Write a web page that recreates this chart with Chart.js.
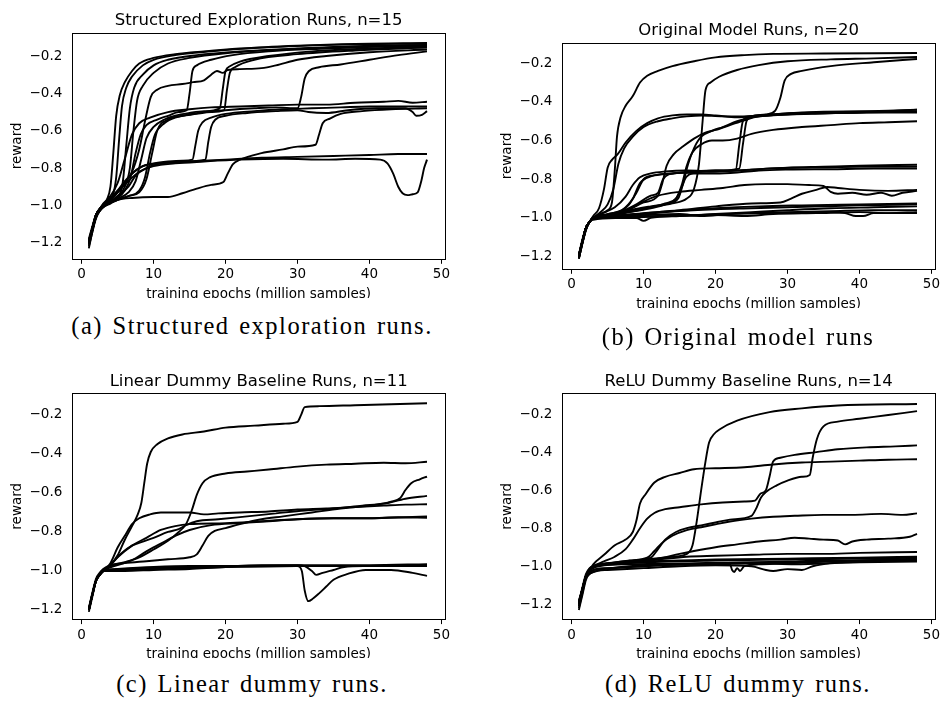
<!DOCTYPE html>
<html>
<head>
<meta charset="utf-8">
<title>Reward curves</title>
<script src="https://cdn.jsdelivr.net/npm/chart.js@4.4.1/dist/chart.umd.min.js"></script>
<style>
  html, body { margin:0; padding:0; background:#fff; }
  body { width:941px; height:701px; position:relative; overflow:hidden; }
  .panel { position:absolute; overflow:hidden; }
  .caption { position:absolute; font-family:"Liberation Serif", serif; font-size:24.5px; letter-spacing:1.5px; word-spacing:2px;
             line-height:30px; color:#000; white-space:nowrap; transform:translateX(-50%); }
</style>
</head>
<body>
<div class="panel" id="pa"><canvas id="ca"></canvas></div>
<div class="panel" id="pb"><canvas id="cb"></canvas></div>
<div class="panel" id="pc"><canvas id="cc"></canvas></div>
<div class="panel" id="pd"><canvas id="cd"></canvas></div>
<div class="caption" id="capa"></div>
<div class="caption" id="capb"></div>
<div class="caption" id="capc"></div>
<div class="caption" id="capd"></div>
<script>
const X_TICKS = [0, 10, 20, 30, 40, 50];
const Y_TICKS = [-1.2, -1.0, -0.8, -0.6, -0.4, -0.2];
const X_LABEL = "training epochs (million samples)";
const Y_LABEL = "reward";
const TITLES = ["Structured Exploration Runs, n=15", "Original Model Runs, n=20",
                "Linear Dummy Baseline Runs, n=11", "ReLU Dummy Baseline Runs, n=14"];
const CAPTIONS = ["(a) Structured exploration runs.", "(b) Original model runs",
                  "(c) Linear dummy runs.", "(d) ReLU dummy runs."];

// each run: [epoch, reward] pairs
const RUNS_A = [
  [[1,-1.2],[1.5,-1.13],[2,-1.06],[2.5,-1.02],[3,-1.0],[3.5,-0.97],[4,-0.9],[4.4,-0.72],[4.8,-0.52],[5.3,-0.41],[6,-0.34],[7,-0.28],[8,-0.24],[10,-0.21],[13,-0.19],[17,-0.175],[22,-0.16],[30,-0.145],[38,-0.135],[48,-0.13]],
  [[1,-1.19],[1.5,-1.12],[2,-1.05],[2.5,-1.02],[3,-1.0],[3.5,-0.98],[4.3,-0.95],[4.8,-0.85],[5.2,-0.65],[5.6,-0.47],[6.2,-0.37],[7,-0.31],[8.5,-0.25],[10,-0.22],[13,-0.195],[18,-0.175],[25,-0.155],[35,-0.14],[48,-0.133]],
  [[1,-1.21],[1.5,-1.13],[2,-1.06],[2.5,-1.02],[3,-1.0],[4,-0.98],[5,-0.96],[5.7,-0.88],[6.2,-0.68],[6.7,-0.48],[7.3,-0.37],[8.5,-0.3],[10,-0.25],[12,-0.22],[16,-0.195],[22,-0.175],[30,-0.16],[40,-0.145],[48,-0.14]],
  [[1,-1.2],[1.5,-1.12],[2,-1.05],[2.5,-1.02],[3,-1.0],[4,-0.98],[5,-0.95],[6,-0.9],[6.7,-0.8],[7.2,-0.6],[7.7,-0.44],[8.5,-0.36],[10,-0.29],[12,-0.24],[15,-0.21],[20,-0.185],[28,-0.165],[38,-0.15],[48,-0.145]],
  [[1,-1.22],[1.5,-1.14],[2,-1.06],[2.5,-1.03],[3,-1.0],[4,-0.97],[5,-0.93],[6,-0.88],[7,-0.82],[8,-0.7],[8.8,-0.55],[9.6,-0.42],[10.5,-0.38],[12,-0.36],[14,-0.35],[15.5,-0.34],[17,-0.33],[18,-0.3],[18.8,-0.28],[19.6,-0.29],[20.3,-0.275],[22,-0.27],[25,-0.265],[27,-0.25],[30,-0.22],[34,-0.2],[40,-0.18],[48,-0.165]],
  [[1,-1.19],[1.5,-1.12],[2,-1.05],[2.5,-1.02],[3,-1.0],[4,-0.98],[5,-0.96],[6,-0.92],[6.8,-0.85],[7.5,-0.72],[8.2,-0.62],[9,-0.57],[10.5,-0.54],[12,-0.52],[13.5,-0.5],[14.6,-0.49],[15,-0.4],[15.4,-0.28],[16,-0.25],[18,-0.22],[21,-0.195],[26,-0.175],[34,-0.16],[48,-0.14]],
  [[1,-1.2],[1.5,-1.13],[2,-1.06],[2.5,-1.02],[3,-1.0],[4,-0.98],[5,-0.965],[6.5,-0.93],[7.5,-0.87],[8.3,-0.75],[9,-0.64],[10,-0.58],[11.5,-0.54],[13,-0.52],[15,-0.505],[17,-0.495],[19.2,-0.48],[19.6,-0.38],[20,-0.28],[20.6,-0.255],[22,-0.23],[26,-0.2],[32,-0.175],[40,-0.16],[48,-0.15]],
  [[1,-1.23],[1.5,-1.14],[2,-1.07],[2.5,-1.03],[3,-1.01],[4,-0.99],[5,-0.97],[6.5,-0.95],[8,-0.92],[8.8,-0.85],[9.5,-0.72],[10.2,-0.62],[11.5,-0.56],[13,-0.53],[16,-0.51],[18,-0.5],[19.8,-0.49],[20.2,-0.38],[20.6,-0.29],[21.3,-0.26],[24,-0.22],[30,-0.19],[38,-0.17],[48,-0.155]],
  [[1,-1.19],[1.5,-1.12],[2,-1.05],[2.5,-1.02],[3,-1.0],[4,-0.985],[5,-0.97],[6.5,-0.95],[8,-0.93],[9,-0.86],[9.8,-0.72],[10.5,-0.6],[12,-0.54],[14,-0.52],[17,-0.5],[20,-0.49],[24,-0.48],[27,-0.475],[30,-0.48],[30.5,-0.42],[31,-0.32],[31.6,-0.28],[33,-0.26],[36,-0.245],[40,-0.22],[44,-0.195],[48,-0.175]],
  [[1,-1.2],[1.5,-1.12],[2,-1.05],[2.5,-1.02],[3,-0.99],[4,-0.95],[5,-0.88],[6,-0.75],[7,-0.62],[8,-0.56],[9.5,-0.53],[12,-0.5],[15,-0.485],[18,-0.475],[22,-0.47],[26,-0.465],[30,-0.46],[34,-0.46],[38,-0.45],[42,-0.445],[44,-0.44],[46,-0.45],[48,-0.445]],
  [[1,-1.18],[1.5,-1.11],[2,-1.05],[2.5,-1.02],[3,-1.0],[4,-0.97],[5,-0.93],[6,-0.88],[7,-0.83],[8.5,-0.79],[10,-0.775],[12,-0.765],[14,-0.76],[15.4,-0.755],[15.8,-0.68],[16.2,-0.6],[16.8,-0.555],[18,-0.53],[20,-0.51],[24,-0.495],[28,-0.485],[32,-0.48],[36,-0.475],[40,-0.47],[44,-0.47],[48,-0.47]],
  [[1,-1.2],[1.5,-1.13],[2,-1.06],[2.5,-1.03],[3,-1.005],[4,-0.98],[5,-0.95],[6.5,-0.9],[7.5,-0.84],[9,-0.8],[11,-0.775],[14,-0.765],[17.2,-0.755],[17.6,-0.66],[18,-0.58],[18.6,-0.54],[20,-0.52],[23,-0.505],[27,-0.495],[30,-0.49],[31.5,-0.5],[34,-0.505],[37,-0.49],[41,-0.48],[45,-0.48],[46,-0.5],[46.5,-0.52],[47.3,-0.515],[48,-0.495]],
  [[1,-1.21],[1.5,-1.13],[2,-1.06],[2.5,-1.03],[3,-1.01],[4,-0.985],[5,-0.97],[7,-0.96],[10,-0.955],[12,-0.955],[14,-0.935],[16,-0.91],[18,-0.89],[19.7,-0.875],[20.3,-0.83],[21,-0.78],[22,-0.755],[25,-0.72],[28,-0.7],[30,-0.685],[32.5,-0.675],[33,-0.62],[33.5,-0.56],[34.5,-0.535],[36,-0.51],[39,-0.495],[43,-0.485],[48,-0.48]],
  [[1,-1.19],[1.5,-1.12],[2,-1.05],[2.5,-1.02],[3,-0.995],[4,-0.96],[5,-0.92],[6,-0.87],[7,-0.83],[8.5,-0.79],[11,-0.775],[15,-0.765],[20,-0.755],[25,-0.745],[30,-0.74],[35,-0.735],[40,-0.73],[44,-0.725],[48,-0.725]],
  [[1,-1.2],[1.5,-1.12],[2,-1.06],[2.5,-1.02],[3,-1.0],[4,-0.97],[5,-0.93],[6.5,-0.87],[8,-0.82],[10,-0.79],[13,-0.775],[17,-0.765],[22,-0.755],[28,-0.75],[34,-0.755],[38,-0.75],[41.5,-0.755],[42.5,-0.775],[43.3,-0.83],[44,-0.9],[44.6,-0.935],[45.3,-0.945],[46,-0.94],[46.7,-0.93],[47.2,-0.87],[47.6,-0.8],[48,-0.755]]
];

const RUNS_B = [
  [[1,-1.19],[1.5,-1.11],[2,-1.05],[2.5,-1.02],[3,-1.0],[4,-0.98],[5,-0.96],[5.6,-0.92],[6,-0.75],[6.3,-0.58],[6.8,-0.48],[7.5,-0.42],[8.5,-0.37],[9.5,-0.3],[10.5,-0.265],[12,-0.24],[14,-0.215],[17,-0.19],[20,-0.17],[24,-0.158],[28,-0.152],[35,-0.15],[48,-0.147]],
  [[1,-1.2],[1.5,-1.12],[2,-1.05],[2.5,-1.02],[3,-1.0],[5,-0.985],[8,-0.965],[11,-0.945],[14,-0.925],[16,-0.9],[17,-0.85],[17.7,-0.72],[18.2,-0.5],[18.6,-0.34],[19.3,-0.3],[20.5,-0.27],[23,-0.235],[26,-0.21],[30,-0.19],[36,-0.18],[42,-0.175],[48,-0.168]],
  [[1,-1.2],[1.5,-1.12],[2,-1.05],[2.5,-1.02],[3,-1.0],[5,-0.98],[7,-0.96],[8.5,-0.9],[9.5,-0.82],[11,-0.785],[14,-0.77],[17,-0.76],[20,-0.755],[23.3,-0.745],[23.8,-0.62],[24.3,-0.5],[25,-0.475],[27,-0.465],[28.3,-0.445],[29,-0.38],[29.6,-0.29],[30.5,-0.255],[32,-0.24],[36,-0.215],[42,-0.195],[48,-0.178]],
  [[1,-1.19],[1.5,-1.12],[2,-1.05],[2.5,-1.02],[3,-0.99],[3.8,-0.95],[4.5,-0.85],[5,-0.74],[5.6,-0.7],[6.4,-0.67],[7.5,-0.61],[9,-0.55],[10.5,-0.51],[12,-0.485],[14,-0.47],[16,-0.465],[18,-0.465],[20,-0.47],[23,-0.48],[26,-0.47],[30,-0.46],[35,-0.455],[40,-0.45],[44,-0.445],[48,-0.44]],
  [[1,-1.2],[1.5,-1.12],[2,-1.05],[2.5,-1.02],[3,-1.0],[4,-0.97],[5,-0.93],[5.8,-0.85],[6.5,-0.72],[7.3,-0.64],[8.5,-0.58],[10,-0.53],[12,-0.5],[14,-0.485],[16,-0.475],[18,-0.47],[21,-0.475],[24,-0.475],[28,-0.465],[32,-0.455],[38,-0.45],[43,-0.45],[48,-0.45]],
  [[1,-1.2],[1.5,-1.12],[2,-1.05],[2.5,-1.02],[3,-1.0],[5,-0.98],[7,-0.96],[8,-0.93],[9,-0.87],[10,-0.8],[11.5,-0.78],[14,-0.77],[17,-0.765],[20,-0.755],[22.8,-0.75],[23.3,-0.62],[23.8,-0.5],[24.5,-0.48],[27,-0.47],[31,-0.46],[36,-0.455],[42,-0.455],[48,-0.455]],
  [[1,-1.21],[1.5,-1.13],[2,-1.06],[2.5,-1.02],[3,-1.0],[5,-0.985],[8,-0.955],[10,-0.92],[12,-0.885],[12.6,-0.82],[13.2,-0.73],[14.2,-0.67],[15.5,-0.63],[17,-0.59],[18.5,-0.56],[20,-0.545],[22,-0.52],[24,-0.495],[26,-0.475],[30,-0.465],[35,-0.46],[40,-0.455],[48,-0.45]],
  [[1,-1.2],[1.5,-1.12],[2,-1.05],[2.5,-1.02],[3,-1.0],[5,-0.985],[8,-0.96],[11,-0.94],[13.5,-0.925],[14.8,-0.9],[15.5,-0.82],[16.2,-0.72],[17,-0.64],[18,-0.58],[19.5,-0.55],[21,-0.53],[23,-0.5],[25,-0.48],[28,-0.47],[33,-0.46],[40,-0.455],[48,-0.44]],
  [[1,-1.2],[1.5,-1.12],[2,-1.05],[2.5,-1.02],[3,-1.0],[5,-0.985],[8,-0.97],[11,-0.95],[13,-0.93],[14.5,-0.9],[15.3,-0.83],[16,-0.73],[16.8,-0.66],[18,-0.62],[19.5,-0.6],[21,-0.6],[23,-0.59],[25,-0.565],[28,-0.545],[32,-0.53],[36,-0.52],[40,-0.51],[44,-0.505],[48,-0.5]],
  [[1,-1.19],[1.5,-1.12],[2,-1.05],[2.5,-1.02],[3,-1.0],[4,-0.98],[6,-0.945],[7.5,-0.89],[8.5,-0.83],[9.5,-0.79],[11,-0.77],[13,-0.76],[16,-0.755],[20,-0.76],[25,-0.75],[30,-0.74],[35,-0.735],[40,-0.73],[48,-0.725]],
  [[1,-1.2],[1.5,-1.12],[2,-1.05],[2.5,-1.02],[3,-1.0],[5,-0.985],[7,-0.965],[9,-0.93],[11,-0.885],[12,-0.87],[12.7,-0.8],[13.5,-0.775],[16,-0.765],[20,-0.76],[23,-0.755],[27,-0.745],[32,-0.74],[40,-0.735],[48,-0.735]],
  [[1,-1.21],[1.5,-1.13],[2,-1.06],[2.5,-1.02],[3,-1.0],[5,-0.99],[8,-0.97],[11,-0.945],[13,-0.925],[14.5,-0.9],[15.2,-0.85],[15.9,-0.79],[17,-0.77],[20,-0.77],[23,-0.765],[26,-0.755],[30,-0.75],[36,-0.748],[42,-0.745],[48,-0.745]],
  [[1,-1.2],[1.5,-1.12],[2,-1.05],[2.5,-1.02],[3,-1.0],[5,-0.985],[8,-0.955],[10,-0.915],[12,-0.885],[15,-0.865],[18,-0.855],[21,-0.845],[24,-0.83],[27,-0.825],[30,-0.825],[33,-0.83],[35,-0.835],[36,-0.865],[37,-0.875],[39,-0.87],[41,-0.88],[43,-0.87],[44.5,-0.885],[46,-0.87],[48,-0.86]],
  [[1,-1.19],[1.5,-1.12],[2,-1.05],[2.5,-1.02],[3,-1.0],[5,-0.99],[10,-0.975],[15,-0.96],[20,-0.94],[25,-0.925],[29,-0.92],[30.5,-0.9],[32,-0.875],[34,-0.855],[35.5,-0.84],[37,-0.845],[40,-0.855],[44,-0.86],[48,-0.855]],
  [[1,-1.2],[1.5,-1.12],[2,-1.05],[2.5,-1.02],[3,-1.0],[5,-0.995],[10,-0.98],[15,-0.965],[20,-0.955],[25,-0.95],[30,-0.945],[35,-0.94],[40,-0.935],[48,-0.93]],
  [[1,-1.21],[1.5,-1.13],[2,-1.06],[2.5,-1.02],[3,-1.0],[6,-1.0],[9,-1.0],[10,-1.015],[11,-1.0],[15,-0.99],[20,-0.98],[25,-0.97],[30,-0.96],[36,-0.95],[42,-0.945],[48,-0.94]],
  [[1,-1.2],[1.5,-1.12],[2,-1.05],[2.5,-1.02],[3,-1.0],[6,-0.99],[10,-0.985],[15,-0.98],[18,-0.99],[22,-0.98],[28,-0.975],[34,-0.97],[38,-0.975],[39.5,-0.99],[40.5,-0.99],[42,-0.975],[48,-0.975]],
  [[1,-1.19],[1.5,-1.12],[2,-1.05],[2.5,-1.02],[3,-1.0],[6,-0.995],[12,-0.99],[18,-0.985],[24,-0.975],[30,-0.97],[36,-0.965],[42,-0.96],[48,-0.96]],
  [[1,-1.2],[1.5,-1.12],[2,-1.05],[2.5,-1.02],[3,-1.0],[6,-0.99],[9,-0.98],[12,-0.97],[16,-0.96],[20,-0.95],[26,-0.94],[32,-0.935],[40,-0.93],[48,-0.925]],
  [[1,-1.21],[1.5,-1.13],[2,-1.06],[2.5,-1.02],[3,-1.01],[7,-1.0],[10,-0.995],[14,-0.99],[20,-0.985],[24,-0.99],[28,-0.98],[34,-0.975],[40,-0.97],[44,-0.975],[48,-0.97]]
];

const RUNS_C = [
  [[1,-1.2],[1.5,-1.12],[2,-1.05],[2.5,-1.02],[3,-1.0],[4,-0.97],[5,-0.92],[6,-0.84],[7,-0.77],[7.8,-0.71],[8.3,-0.65],[8.7,-0.55],[9.1,-0.45],[9.6,-0.39],[10.5,-0.35],[12,-0.32],[14,-0.3],[17,-0.285],[20,-0.265],[24,-0.255],[28,-0.245],[30,-0.235],[30.5,-0.2],[31,-0.16],[33,-0.155],[38,-0.15],[43,-0.145],[48,-0.14]],
  [[1,-1.2],[1.5,-1.12],[2,-1.05],[2.5,-1.02],[3,-1.0],[4,-0.975],[6,-0.955],[8,-0.93],[10,-0.89],[12,-0.845],[13.5,-0.8],[14.5,-0.76],[15.3,-0.69],[16,-0.61],[16.8,-0.55],[17.8,-0.52],[20,-0.5],[23,-0.49],[26,-0.48],[30,-0.465],[34,-0.455],[38,-0.45],[42,-0.445],[45,-0.448],[48,-0.44]],
  [[1,-1.19],[1.5,-1.11],[2,-1.04],[2.5,-1.01],[3,-0.99],[4,-0.97],[6,-0.96],[9,-0.95],[12,-0.94],[15,-0.93],[16,-0.915],[16.8,-0.87],[17.6,-0.82],[18.5,-0.795],[20,-0.78],[22,-0.76],[25,-0.735],[28,-0.72],[32,-0.7],[36,-0.68],[40,-0.665],[43,-0.645],[44.3,-0.625],[45,-0.585],[45.8,-0.55],[47,-0.53],[48,-0.516]],
  [[1,-1.2],[1.5,-1.12],[2,-1.05],[2.5,-1.02],[3,-1.0],[4,-0.97],[5.5,-0.91],[7,-0.87],[8.5,-0.85],[10,-0.83],[12,-0.8],[13.5,-0.785],[14.5,-0.765],[16,-0.745],[19,-0.735],[23,-0.72],[27,-0.705],[31,-0.69],[35,-0.68],[39,-0.665],[42,-0.655],[45,-0.63],[48,-0.615]],
  [[1,-1.21],[1.5,-1.13],[2,-1.05],[2.5,-1.02],[3,-1.0],[4,-0.96],[5,-0.88],[6,-0.82],[7,-0.76],[8,-0.73],[9.5,-0.71],[11,-0.7],[13,-0.7],[15,-0.7],[17,-0.71],[19,-0.705],[22,-0.7],[26,-0.695],[30,-0.685],[34,-0.68],[38,-0.672],[42,-0.665],[45,-0.66],[48,-0.658]],
  [[1,-1.2],[1.5,-1.12],[2,-1.05],[2.5,-1.02],[3,-1.0],[4,-0.97],[5,-0.93],[7,-0.87],[9,-0.83],[11,-0.79],[13,-0.77],[15,-0.76],[20,-0.755],[25,-0.745],[30,-0.735],[35,-0.73],[40,-0.73],[45,-0.725],[48,-0.72]],
  [[1,-1.19],[1.5,-1.12],[2,-1.05],[2.5,-1.02],[3,-1.0],[5,-0.97],[7,-0.945],[9,-0.9],[11,-0.86],[13,-0.82],[15,-0.79],[18,-0.765],[22,-0.755],[26,-0.745],[30,-0.735],[35,-0.73],[40,-0.73],[44,-0.725],[48,-0.727]],
  [[1,-1.2],[1.5,-1.12],[2,-1.05],[2.5,-1.02],[3,-1.0],[5,-0.99],[10,-0.98],[15,-0.975],[20,-0.975],[25,-0.97],[30,-0.97],[35,-0.97],[40,-0.97],[48,-0.965]],
  [[1,-1.2],[1.5,-1.12],[2,-1.05],[2.5,-1.02],[3,-1.0],[6,-1.0],[10,-0.995],[15,-0.99],[20,-0.98],[30,-0.975],[40,-0.975],[48,-0.975]],
  [[1,-1.2],[1.5,-1.12],[2,-1.05],[2.5,-1.02],[3,-1.0],[6,-0.995],[10,-0.99],[20,-0.98],[30,-0.975],[30.6,-1.0],[31,-1.1],[31.5,-1.155],[32.2,-1.14],[33,-1.115],[34,-1.08],[35,-1.045],[37,-1.015],[39.5,-0.995],[43,-0.995],[46,-1.01],[48,-1.025]],
  [[1,-1.2],[1.5,-1.12],[2,-1.05],[2.5,-1.02],[3,-1.0],[6,-0.99],[10,-0.985],[20,-0.975],[30,-0.97],[31,-0.975],[32,-1.0],[32.6,-1.02],[33.5,-1.01],[35,-0.995],[36.5,-0.98],[40,-0.975],[48,-0.97]]
];

const RUNS_D = [
  [[1,-1.19],[1.5,-1.11],[2,-1.04],[2.5,-1.01],[3,-1.0],[6,-0.98],[10,-0.965],[14,-0.95],[16,-0.935],[16.8,-0.89],[17.4,-0.76],[18,-0.6],[18.6,-0.45],[19.1,-0.35],[19.8,-0.305],[20.6,-0.28],[23,-0.235],[27.5,-0.19],[32,-0.17],[37,-0.155],[48,-0.147]],
  [[1,-1.2],[1.5,-1.12],[2,-1.05],[2.5,-1.02],[3,-1.0],[6,-0.985],[9,-0.97],[11,-0.955],[12,-0.91],[13,-0.86],[14.5,-0.82],[16,-0.8],[18,-0.785],[20,-0.77],[22,-0.755],[25,-0.735],[25.6,-0.7],[26.3,-0.64],[27,-0.61],[28.5,-0.575],[30,-0.55],[32,-0.53],[33.1,-0.52],[33.5,-0.43],[34.1,-0.33],[35,-0.265],[37,-0.24],[40,-0.225],[44,-0.205],[48,-0.185]],
  [[1,-1.21],[1.5,-1.13],[2,-1.05],[2.5,-1.02],[3,-1.0],[4.5,-0.975],[6,-0.95],[7.5,-0.91],[8.5,-0.86],[9.5,-0.8],[10.5,-0.75],[11.5,-0.72],[13,-0.7],[15,-0.69],[18,-0.675],[21,-0.665],[24,-0.66],[25.5,-0.655],[26.2,-0.62],[27,-0.6],[27.5,-0.53],[28,-0.45],[29,-0.43],[31,-0.415],[34,-0.4],[37,-0.385],[41,-0.375],[45,-0.37],[48,-0.365]],
  [[1,-1.2],[1.5,-1.12],[2,-1.05],[2.5,-1.02],[3,-0.99],[4.5,-0.94],[6,-0.89],[7.5,-0.86],[8.5,-0.82],[9,-0.76],[9.5,-0.67],[10.3,-0.62],[11.5,-0.56],[13,-0.53],[15,-0.51],[17,-0.49],[20,-0.485],[24,-0.48],[28,-0.465],[32,-0.455],[36,-0.45],[40,-0.445],[44,-0.44],[48,-0.438]],
  [[1,-1.2],[1.5,-1.12],[2,-1.05],[2.5,-1.02],[3,-1.0],[5,-0.985],[8,-0.97],[10.5,-0.955],[11.5,-0.92],[12.5,-0.88],[14,-0.84],[16,-0.81],[18,-0.795],[20,-0.78],[22,-0.765],[25,-0.75],[28,-0.74],[31,-0.735],[35,-0.73],[39,-0.73],[43,-0.725],[46,-0.73],[48,-0.722]],
  [[1,-1.2],[1.5,-1.12],[2,-1.05],[2.5,-1.02],[3,-1.0],[8,-0.98],[12,-0.96],[15,-0.935],[17,-0.92],[20,-0.9],[23,-0.885],[26,-0.87],[29,-0.86],[31,-0.85],[33,-0.855],[35,-0.86],[37,-0.865],[38,-0.885],[39,-0.87],[41,-0.86],[44,-0.855],[47,-0.845],[48,-0.83]],
  [[1,-1.19],[1.5,-1.12],[2,-1.05],[2.5,-1.02],[3,-1.0],[8,-0.98],[12,-0.965],[16,-0.95],[20,-0.945],[25,-0.94],[30,-0.935],[35,-0.935],[40,-0.93],[48,-0.925]],
  [[1,-1.22],[1.5,-1.14],[2,-1.06],[3,-1.02],[5,-1.01],[10,-1.0],[15,-0.99],[20,-0.985],[22,-0.99],[22.3,-1.02],[22.6,-1.03],[23,-1.01],[23.4,-1.025],[24,-1.0],[26,-0.99],[30,-0.985],[35,-0.975],[40,-0.97],[48,-0.96]],
  [[1,-1.23],[1.5,-1.15],[2,-1.07],[3,-1.03],[5,-1.02],[10,-1.01],[15,-1.0],[20,-0.995],[25,-1.0],[27,-1.02],[28,-1.025],[30,-1.015],[32,-1.02],[33.5,-1.0],[36,-0.985],[40,-0.98],[48,-0.975]],
  [[1,-1.2],[1.5,-1.12],[2,-1.05],[3,-1.01],[6,-0.99],[10,-0.98],[20,-0.97],[30,-0.965],[40,-0.96],[48,-0.955]],
  [[1,-1.19],[1.5,-1.12],[2,-1.05],[3,-1.0],[6,-0.985],[10,-0.975],[15,-0.97],[20,-0.965],[30,-0.96],[40,-0.955],[48,-0.95]],
  [[1,-1.21],[1.5,-1.13],[2,-1.06],[2.5,-1.04],[4,-1.02],[8,-1.0],[15,-0.99],[25,-0.98],[30,-0.975],[35,-0.97],[40,-0.97],[48,-0.97]],
  [[1,-1.2],[1.5,-1.12],[2,-1.05],[3,-1.0],[8,-0.99],[16,-0.985],[24,-0.98],[30,-0.98],[35,-0.975],[42,-0.97],[48,-0.965]],
  [[1,-1.18],[1.5,-1.12],[2,-1.06],[3,-1.02],[6,-1.01],[12,-0.995],[20,-0.99],[26,-0.985],[31,-0.99],[38,-0.98],[48,-0.968]]
];

// page layout of the four panels (canvas box, plot box, value ranges)
const PANELS = [
  { id:"a", runs:RUNS_A, left:0,   top:0,   width:460, plotLeft:72.3, plotRight:445, plotTop:32.7, plotBottom:259,   yMin:-1.287, yMax:-0.075, capX:252, capY:326 },
  { id:"b", runs:RUNS_B, left:490, top:0,   width:451, plotLeft:72.3, plotRight:445, plotTop:42.7, plotBottom:269,   yMin:-1.264, yMax:-0.094, capX:738, capY:337 },
  { id:"c", runs:RUNS_C, left:0,   top:350, width:460, plotLeft:72.3, plotRight:445, plotTop:43.3, plotBottom:269.3, yMin:-1.248, yMax:-0.089, capX:252, capY:684 },
  { id:"d", runs:RUNS_D, left:490, top:350, width:451, plotLeft:72.3, plotRight:445, plotTop:43.3, plotBottom:269.3, yMin:-1.279, yMax:-0.091, capX:738, capY:684 }
];

const FONT = "'DejaVu Sans', sans-serif";
const fmt = v => (v < 0 ? "\u2212" : "") + Math.abs(v).toFixed(1);

// axes box on all four sides, plus the panel title above it
const frame = {
  id: "frame",
  afterDraw(chart, args, opts) {
    const a = chart.chartArea, c = chart.ctx;
    c.save();
    c.strokeStyle = "#000";
    c.lineWidth = 1;
    c.strokeRect(Math.round(a.left) + 0.5, Math.round(a.top) + 0.5,
                 Math.round(a.right - a.left), Math.round(a.bottom - a.top));
    c.fillStyle = "#000";
    c.font = "16.5px 'DejaVu Sans', sans-serif";
    c.textAlign = "center";
    c.textBaseline = "alphabetic";
    c.fillText(opts.title, (a.left + a.right) / 2, a.top - 7.5);
    c.restore();
  }
};

PANELS.forEach((p, i) => {
  const wrap = document.getElementById("p" + p.id);
  const cv = document.getElementById("c" + p.id);
  const H = Math.round(p.plotBottom + 44);
  wrap.style.left = p.left + "px";
  wrap.style.top = p.top + "px";
  wrap.style.width = p.width + "px";
  wrap.style.height = Math.round(p.plotBottom + 38.5) + "px";
  cv.width = p.width; cv.height = H;
  cv.style.width = p.width + "px"; cv.style.height = H + "px";

  const tickFont = { family:FONT, size:13.5 };

  new Chart(cv, {
    type: "line",
    data: {
      datasets: p.runs.map(r => ({
        data: r.map(([x, y]) => ({ x, y })),
        borderColor: "#000",
        borderWidth: 1.9,
        pointRadius: 0,
        fill: false,
        cubicInterpolationMode: "monotone"
      }))
    },
    options: {
      responsive: false,
      animation: false,
      devicePixelRatio: 1,
      layout: { padding: { left:0, top:p.plotTop, bottom:0, right: p.width - p.plotRight } },
      plugins: {
        legend: { display:false },
        tooltip: { enabled:false },
        title: { display:false },
        frame: { title: TITLES[i] }
      },
      scales: {
        x: {
          type: "linear", min: -1.3, max: 50.5,
          afterBuildTicks: s => { s.ticks = X_TICKS.map(v => ({ value:v })); },
          afterFit: s => { s.height = H - p.plotBottom; s.paddingLeft = 0; s.paddingRight = 0; },
          ticks: { color:"#000", font:tickFont, padding:3, maxRotation:0, callback: v => String(v) },
          grid: { drawOnChartArea:false, drawTicks:true, tickLength:4.8, tickColor:"#000", tickWidth:1 },
          border: { display:false },
          title: { display:true, text:X_LABEL, color:"#000", font:tickFont, padding:{ top:0, bottom:0 } }
        },
        y: {
          type: "linear", min: p.yMin, max: p.yMax,
          afterBuildTicks: s => { s.ticks = Y_TICKS.map(v => ({ value:v })); },
          afterFit: s => { s.width = p.plotLeft; s.paddingTop = 0; s.paddingBottom = 0; },
          ticks: { color:"#000", font:tickFont, padding:10, callback: v => fmt(v) },
          grid: { drawOnChartArea:false, drawTicks:false },
          border: { display:false },
          title: { display:true, text:Y_LABEL, color:"#000", font:tickFont, padding:{ top:9.6, bottom:0 } }
        }
      }
    },
    plugins: [frame]
  });

  const cap = document.getElementById("cap" + p.id);
  cap.textContent = CAPTIONS[i];
  cap.style.left = p.capX + "px";
  cap.style.top = (p.capY - 15) + "px";
});
</script>
</body>
</html>
